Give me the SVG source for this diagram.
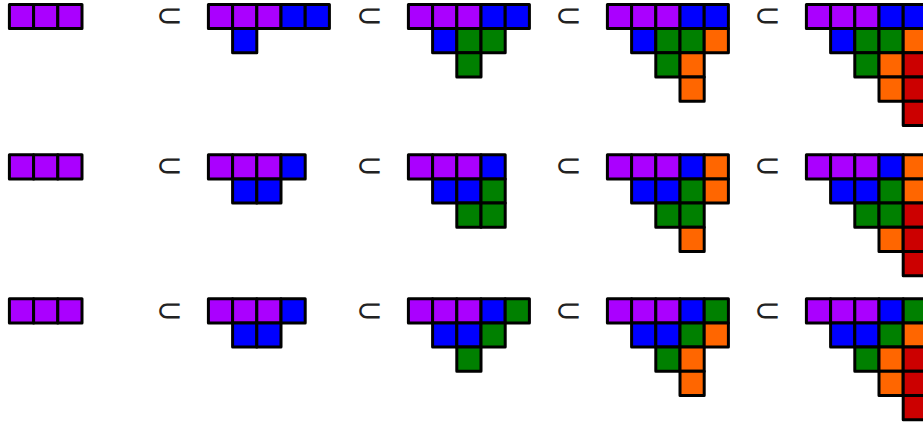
<svg xmlns="http://www.w3.org/2000/svg" width="923" height="425" viewBox="0 0 923 425">
<defs>
<style>
rect{stroke:#000;stroke-width:3;stroke-linejoin:round;width:24.2px;height:24.2px}
.p{fill:#AA00FF}.b{fill:#0000FF}.g{fill:#008000}.o{fill:#FF6600}.r{fill:#CC0000}
.sub{font-family:"DejaVu Sans",sans-serif;font-weight:200;font-size:32px;fill:#222;text-anchor:middle}
</style>
</defs>
<rect x="0" y="0" width="923" height="425" style="fill:#fff;stroke:none;width:923px;height:425px"/>
<!-- Row 1 -->
<g id="r1s1" transform="translate(9.4,4.4)">
<rect class="p" x="0" y="0"/><rect class="p" x="24.2" y="0"/><rect class="p" x="48.4" y="0"/>
</g>
<g id="r1s2" transform="translate(208.4,4.4)">
<rect class="p" x="0" y="0"/><rect class="p" x="24.2" y="0"/><rect class="p" x="48.4" y="0"/><rect class="b" x="72.6" y="0"/><rect class="b" x="96.8" y="0"/>
<rect class="b" x="24.2" y="24.2"/>
</g>
<g id="r1s3" transform="translate(408.4,4.4)">
<rect class="p" x="0" y="0"/><rect class="p" x="24.2" y="0"/><rect class="p" x="48.4" y="0"/><rect class="b" x="72.6" y="0"/><rect class="b" x="96.8" y="0"/>
<rect class="b" x="24.2" y="24.2"/><rect class="g" x="48.4" y="24.2"/><rect class="g" x="72.6" y="24.2"/>
<rect class="g" x="48.4" y="48.4"/>
</g>
<g id="r1s4" transform="translate(607.4,4.4)">
<rect class="p" x="0" y="0"/><rect class="p" x="24.2" y="0"/><rect class="p" x="48.4" y="0"/><rect class="b" x="72.6" y="0"/><rect class="b" x="96.8" y="0"/>
<rect class="b" x="24.2" y="24.2"/><rect class="g" x="48.4" y="24.2"/><rect class="g" x="72.6" y="24.2"/><rect class="o" x="96.8" y="24.2"/>
<rect class="g" x="48.4" y="48.4"/><rect class="o" x="72.6" y="48.4"/>
<rect class="o" x="72.6" y="72.6"/>
</g>
<g id="r1s5" transform="translate(806.4,4.4)">
<rect class="p" x="0" y="0"/><rect class="p" x="24.2" y="0"/><rect class="p" x="48.4" y="0"/><rect class="b" x="72.6" y="0"/><rect class="b" x="96.8" y="0"/>
<rect class="b" x="24.2" y="24.2"/><rect class="g" x="48.4" y="24.2"/><rect class="g" x="72.6" y="24.2"/><rect class="o" x="96.8" y="24.2"/>
<rect class="g" x="48.4" y="48.4"/><rect class="o" x="72.6" y="48.4"/><rect class="r" x="96.8" y="48.4"/>
<rect class="o" x="72.6" y="72.6"/><rect class="r" x="96.8" y="72.6"/>
<rect class="r" x="96.8" y="96.8"/>
</g>
<!-- Row 2 -->
<g id="r2s1" transform="translate(9.4,154.7)">
<rect class="p" x="0" y="0"/><rect class="p" x="24.2" y="0"/><rect class="p" x="48.4" y="0"/>
</g>
<g id="r2s2" transform="translate(208.4,154.7)">
<rect class="p" x="0" y="0"/><rect class="p" x="24.2" y="0"/><rect class="p" x="48.4" y="0"/><rect class="b" x="72.6" y="0"/>
<rect class="b" x="24.2" y="24.2"/><rect class="b" x="48.4" y="24.2"/>
</g>
<g id="r2s3" transform="translate(408.4,154.7)">
<rect class="p" x="0" y="0"/><rect class="p" x="24.2" y="0"/><rect class="p" x="48.4" y="0"/><rect class="b" x="72.6" y="0"/>
<rect class="b" x="24.2" y="24.2"/><rect class="b" x="48.4" y="24.2"/><rect class="g" x="72.6" y="24.2"/>
<rect class="g" x="48.4" y="48.4"/><rect class="g" x="72.6" y="48.4"/>
</g>
<g id="r2s4" transform="translate(607.4,154.7)">
<rect class="p" x="0" y="0"/><rect class="p" x="24.2" y="0"/><rect class="p" x="48.4" y="0"/><rect class="b" x="72.6" y="0"/><rect class="o" x="96.8" y="0"/>
<rect class="b" x="24.2" y="24.2"/><rect class="b" x="48.4" y="24.2"/><rect class="g" x="72.6" y="24.2"/><rect class="o" x="96.8" y="24.2"/>
<rect class="g" x="48.4" y="48.4"/><rect class="g" x="72.6" y="48.4"/>
<rect class="o" x="72.6" y="72.6"/>
</g>
<g id="r2s5" transform="translate(806.4,154.7)">
<rect class="p" x="0" y="0"/><rect class="p" x="24.2" y="0"/><rect class="p" x="48.4" y="0"/><rect class="b" x="72.6" y="0"/><rect class="o" x="96.8" y="0"/>
<rect class="b" x="24.2" y="24.2"/><rect class="b" x="48.4" y="24.2"/><rect class="g" x="72.6" y="24.2"/><rect class="o" x="96.8" y="24.2"/>
<rect class="g" x="48.4" y="48.4"/><rect class="g" x="72.6" y="48.4"/><rect class="r" x="96.8" y="48.4"/>
<rect class="o" x="72.6" y="72.6"/><rect class="r" x="96.8" y="72.6"/>
<rect class="r" x="96.8" y="96.8"/>
</g>
<!-- Row 3 -->
<g id="r3s1" transform="translate(9.4,298.7)">
<rect class="p" x="0" y="0"/><rect class="p" x="24.2" y="0"/><rect class="p" x="48.4" y="0"/>
</g>
<g id="r3s2" transform="translate(208.4,298.7)">
<rect class="p" x="0" y="0"/><rect class="p" x="24.2" y="0"/><rect class="p" x="48.4" y="0"/><rect class="b" x="72.6" y="0"/>
<rect class="b" x="24.2" y="24.2"/><rect class="b" x="48.4" y="24.2"/>
</g>
<g id="r3s3" transform="translate(408.4,298.7)">
<rect class="p" x="0" y="0"/><rect class="p" x="24.2" y="0"/><rect class="p" x="48.4" y="0"/><rect class="b" x="72.6" y="0"/><rect class="g" x="96.8" y="0"/>
<rect class="b" x="24.2" y="24.2"/><rect class="b" x="48.4" y="24.2"/><rect class="g" x="72.6" y="24.2"/>
<rect class="g" x="48.4" y="48.4"/>
</g>
<g id="r3s4" transform="translate(607.4,298.7)">
<rect class="p" x="0" y="0"/><rect class="p" x="24.2" y="0"/><rect class="p" x="48.4" y="0"/><rect class="b" x="72.6" y="0"/><rect class="g" x="96.8" y="0"/>
<rect class="b" x="24.2" y="24.2"/><rect class="b" x="48.4" y="24.2"/><rect class="g" x="72.6" y="24.2"/><rect class="o" x="96.8" y="24.2"/>
<rect class="g" x="48.4" y="48.4"/><rect class="o" x="72.6" y="48.4"/>
<rect class="o" x="72.6" y="72.6"/>
</g>
<g id="r3s5" transform="translate(806.4,298.7)">
<rect class="p" x="0" y="0"/><rect class="p" x="24.2" y="0"/><rect class="p" x="48.4" y="0"/><rect class="b" x="72.6" y="0"/><rect class="g" x="96.8" y="0"/>
<rect class="b" x="24.2" y="24.2"/><rect class="b" x="48.4" y="24.2"/><rect class="g" x="72.6" y="24.2"/><rect class="o" x="96.8" y="24.2"/>
<rect class="g" x="48.4" y="48.4"/><rect class="o" x="72.6" y="48.4"/><rect class="r" x="96.8" y="48.4"/>
<rect class="o" x="72.6" y="72.6"/><rect class="r" x="96.8" y="72.6"/>
<rect class="r" x="96.8" y="96.8"/>
</g>
<!-- subset symbols -->
<g id="subsets">
<text class="sub" x="169.5" y="26.4">⊂</text><text class="sub" x="369" y="26.4">⊂</text><text class="sub" x="568.3" y="26.4">⊂</text><text class="sub" x="767.5" y="26.4">⊂</text>
<text class="sub" x="169.5" y="175.7">⊂</text><text class="sub" x="369" y="175.7">⊂</text><text class="sub" x="568.3" y="175.7">⊂</text><text class="sub" x="767.5" y="175.7">⊂</text>
<text class="sub" x="169.5" y="320.5">⊂</text><text class="sub" x="369" y="320.5">⊂</text><text class="sub" x="568.3" y="320.5">⊂</text><text class="sub" x="767.5" y="320.5">⊂</text>
</g>
</svg>
